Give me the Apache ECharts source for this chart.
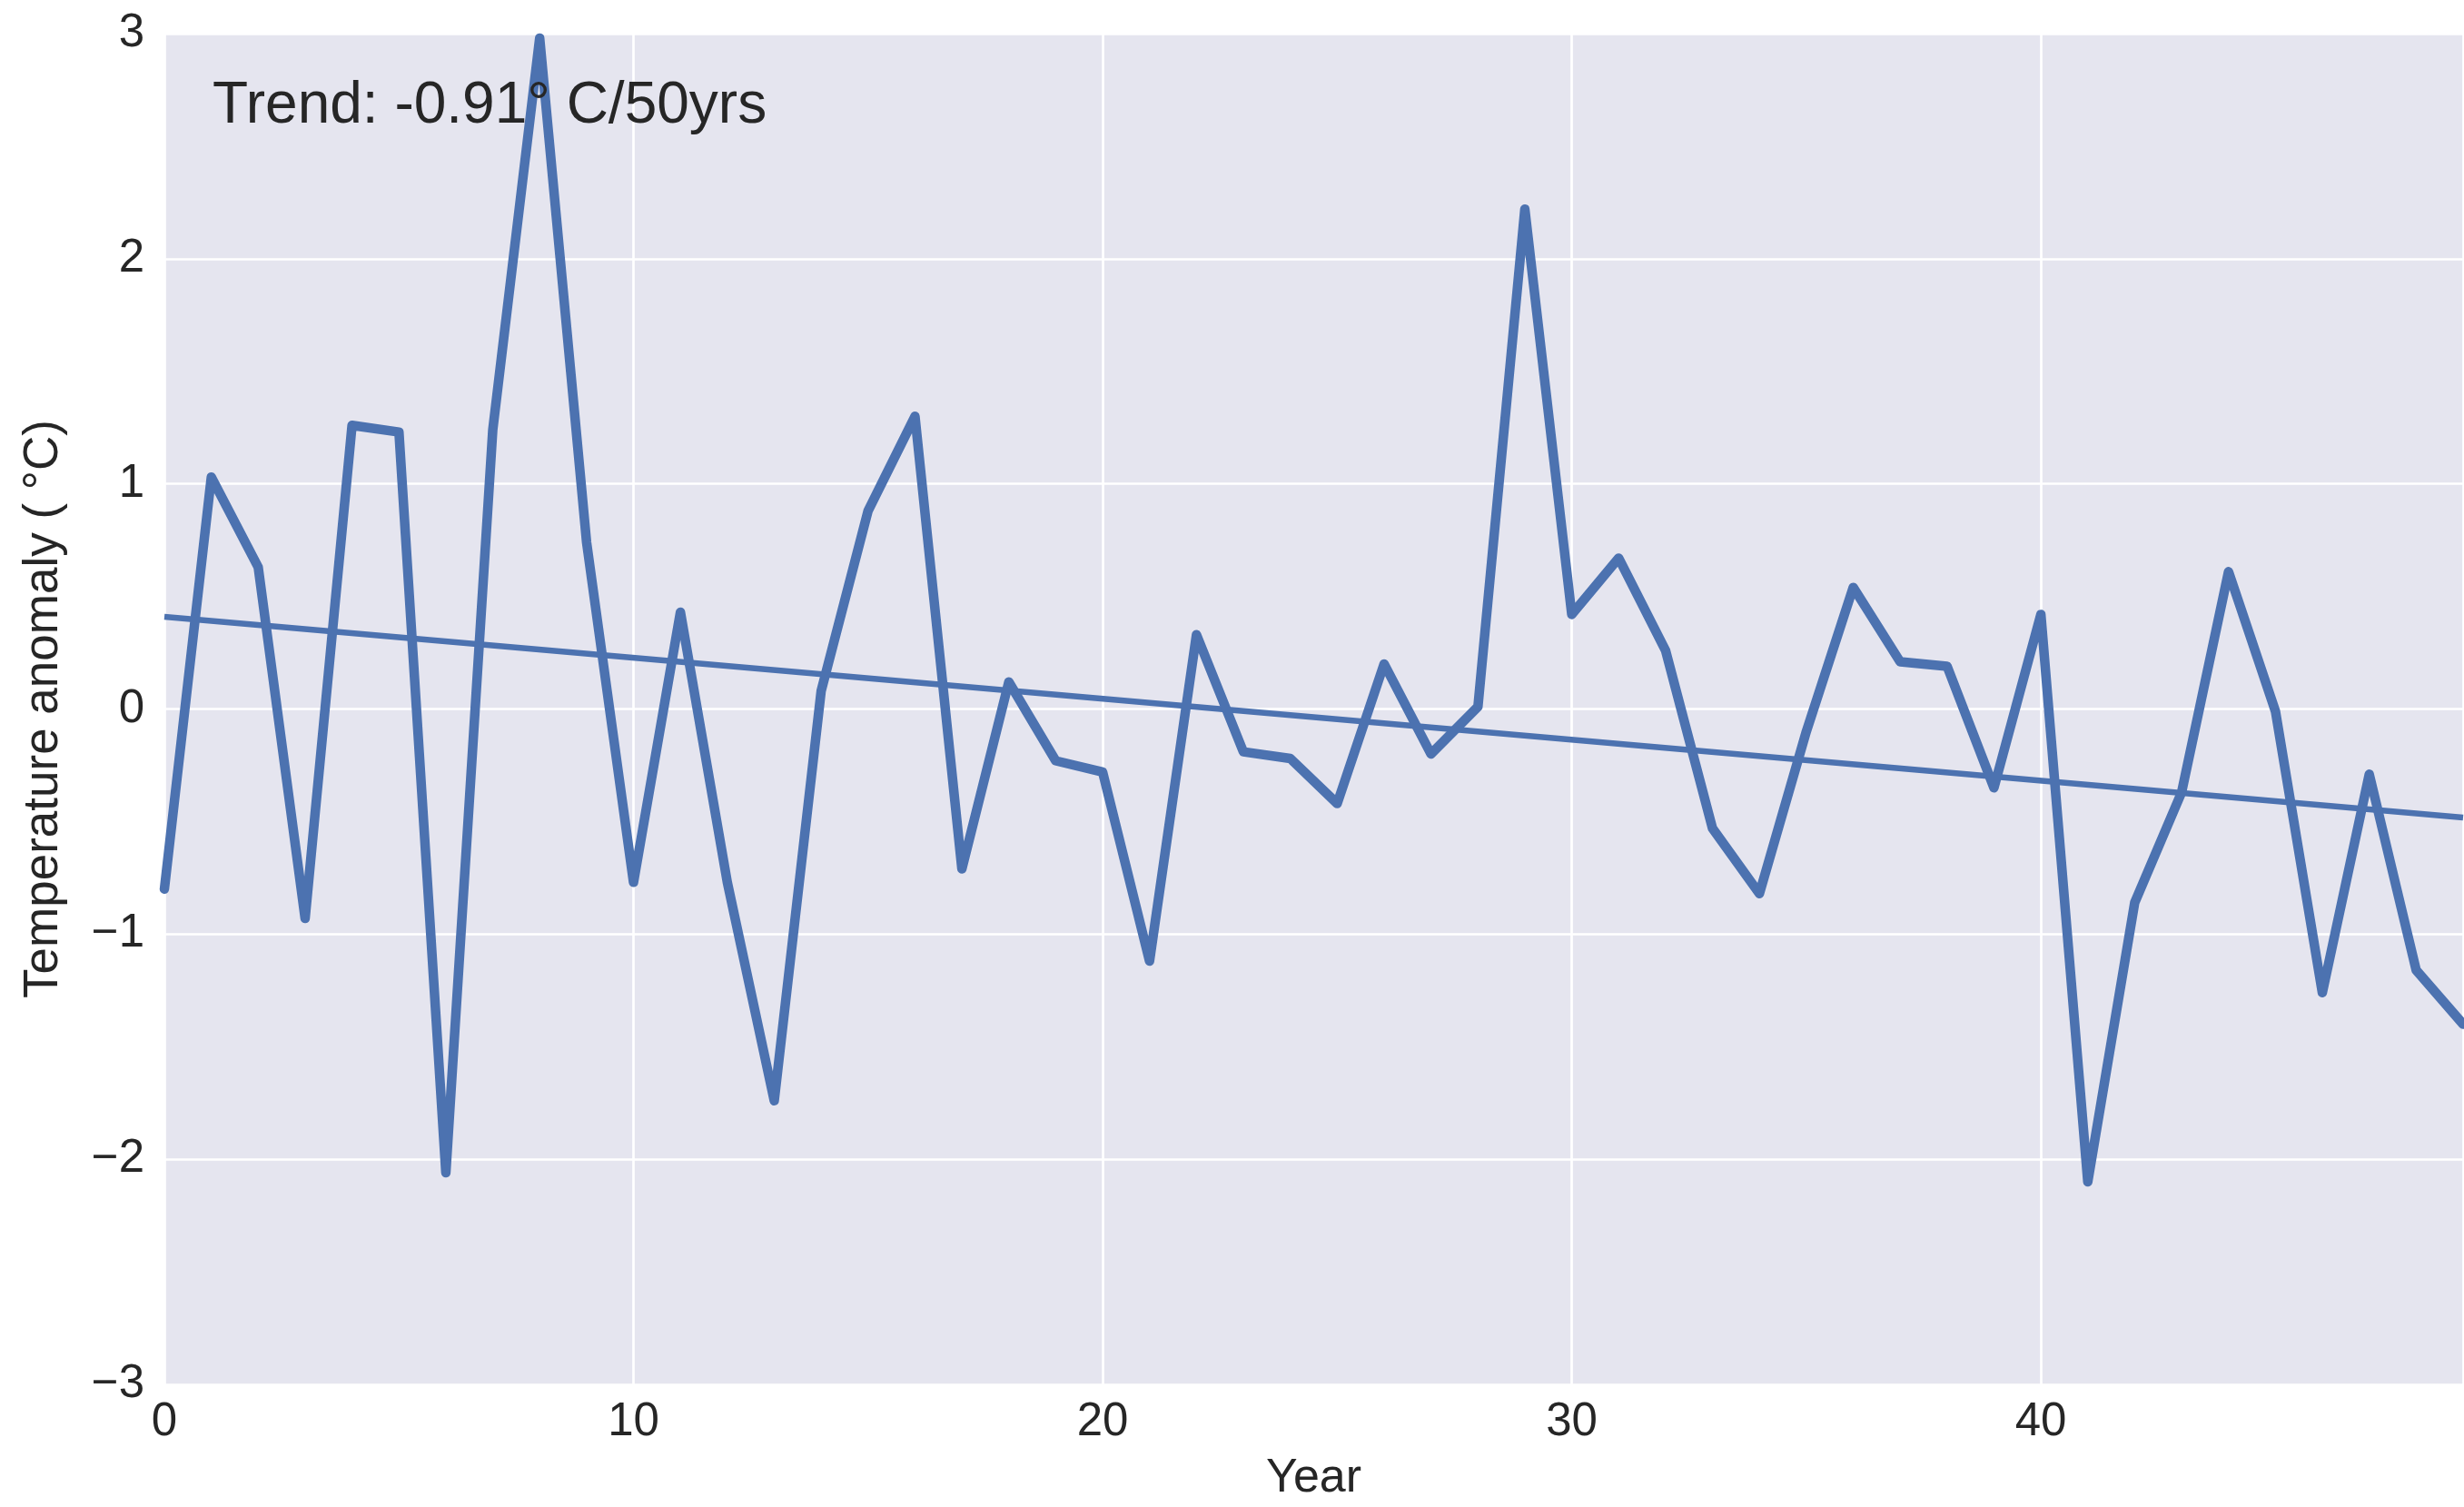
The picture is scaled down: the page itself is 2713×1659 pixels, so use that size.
<!DOCTYPE html>
<html>
<head>
<meta charset="utf-8">
<title>Temperature anomaly</title>
<script src="https://cdn.jsdelivr.net/npm/echarts@6/dist/echarts.min.js"></script>
<style>
  html, body { margin: 0; padding: 0; background: #ffffff; }
  #chart { width: 2713px; height: 1659px; }
</style>
</head>
<body>
<div id="chart"></div>
<script>
// Yearly temperature anomaly (°C) and its linear trend
const years = [0, 1, 2, 3, 4, 5, 6, 7, 8, 9,
               10, 11, 12, 13, 14, 15, 16, 17, 18, 19,
               20, 21, 22, 23, 24, 25, 26, 27, 28, 29,
               30, 31, 32, 33, 34, 35, 36, 37, 38, 39,
               40, 41, 42, 43, 44, 45, 46, 47, 48, 49];
const anomaly = [-0.80, 1.03, 0.63, -0.93, 1.26, 1.23, -2.06, 1.24, 2.98, 0.74,
                 -0.77, 0.43, -0.77, -1.74, 0.08, 0.88, 1.30, -0.71, 0.12, -0.23,
                 -0.28, -1.12, 0.33, -0.19, -0.22, -0.42, 0.20, -0.20, 0.01, 2.22,
                 0.42, 0.67, 0.26, -0.53, -0.82, -0.10, 0.54, 0.21, 0.19, -0.35,
                 0.42, -2.10, -0.86, -0.37, 0.61, -0.01, -1.26, -0.29, -1.16, -1.40];
const trendIntercept = 0.41;   // fitted value at year 0
const trendPer50 = -0.91;      // °C per 50 years
const yTicks = [-3, -2, -1, 0, 1, 2, 3];
const xTicks = [0, 10, 20, 30, 40];

const lineColor = '#4C72B0';
const textColor = '#262626';
const font = 'Liberation Sans, Arial, sans-serif';

const seriesData = years.map((y, i) => [y, anomaly[i]]);
const lastYear = years[years.length - 1];
const trendData = [
  [years[0], trendIntercept + trendPer50 / 50 * years[0]],
  [lastYear, trendIntercept + trendPer50 / 50 * lastYear]
];

const chart = echarts.init(document.getElementById('chart'), null, { renderer: 'canvas' });
chart.setOption({
  animation: false,
  backgroundColor: '#ffffff',
  grid: {
    left: 181, right: 1, top: 37, bottom: 135,
    show: true, backgroundColor: '#E5E5EF', borderWidth: 0
  },
  xAxis: {
    type: 'value',
    min: xTicks[0], max: lastYear, interval: 10,
    name: 'Year',
    nameLocation: 'middle',
    nameGap: 78,
    nameTextStyle: { fontFamily: font, fontSize: 52, color: textColor },
    axisLine: { show: false },
    axisTick: { show: false },
    axisLabel: {
      showMaxLabel: false,
      margin: 16,
      fontFamily: font, fontSize: 51, color: textColor,
      formatter: v => xTicks.includes(v) ? String(v) : ''
    },
    splitLine: { show: true, lineStyle: { color: '#ffffff', width: 2.7 } }
  },
  yAxis: {
    type: 'value',
    min: yTicks[0], max: yTicks[yTicks.length - 1], interval: 1,
    name: 'Temperature anomaly ( °C)',
    nameLocation: 'middle',
    nameRotate: 90,
    nameGap: 106,
    nameTextStyle: { fontFamily: font, fontSize: 53, color: textColor },
    axisLine: { show: false },
    axisTick: { show: false },
    axisLabel: {
      margin: 22,
      fontFamily: font, fontSize: 51, color: textColor,
      formatter: v => String(v).replace('-', '\u2212')
    },
    splitLine: { show: true, lineStyle: { color: '#ffffff', width: 2.7 } }
  },
  series: [
    {
      type: 'line',
      data: seriesData,
      showSymbol: false,
      symbol: 'none',
      lineStyle: { color: lineColor, width: 10.5, cap: 'round', join: 'round' },
      z: 3
    },
    {
      type: 'line',
      data: trendData,
      showSymbol: false,
      symbol: 'none',
      lineStyle: { color: lineColor, width: 6.5 },
      z: 2
    }
  ],
  graphic: [
    {
      type: 'text',
      left: 234,
      top: 85,
      z: 10,
      style: {
        text: 'Trend: ' + trendPer50.toFixed(2) + '° C/50yrs',
        fontFamily: font,
        fontSize: 64,
        fill: textColor
      }
    }
  ]
});
</script>
</body>
</html>
